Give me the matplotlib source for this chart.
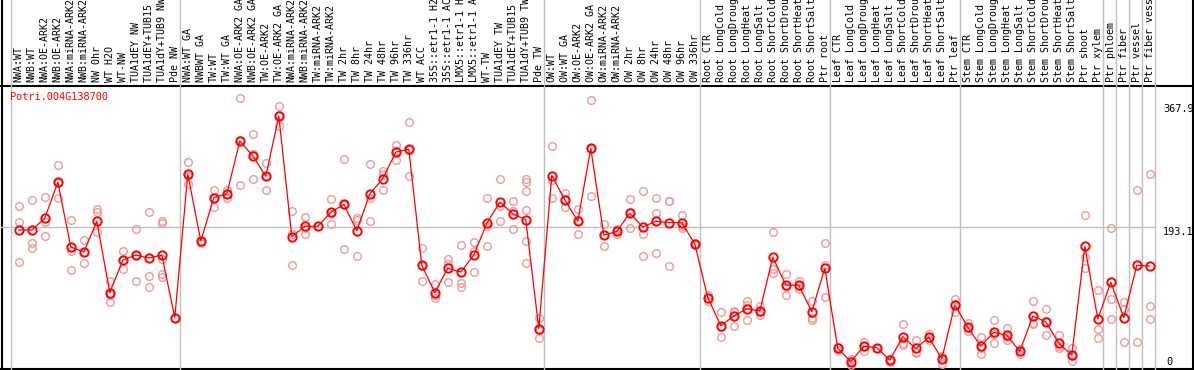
import numpy as np
import matplotlib
matplotlib.use("Agg")
import matplotlib.pyplot as plt
import matplotlib.transforms as mtransforms

plt.rcParams['font.family'] = 'DejaVu Sans Mono'

gene = "Potri.004G138700"

# sample labels, left to right
labels = [
    "NWA:WT", "NWB:WT", "NWA:OE-ARK2", "NWB:OE-ARK2", "NWA:miRNA-ARK2", "NWB:miRNA-ARK2",
    "NW 0hr", "WT H2O", "WT-NW", "TUA1dEY NW", "TUA1dEY+TUB15 NW", "TUA1dY+TUB9 NW", "Pde NW",
    "NWA:WT GA", "NWBWT GA", "TW:WT", "TW:WT GA", "NWA:OE-ARK2 GA", "NWB:OE-ARK2 GA",
    "TW:OE-ARK2", "TW:OE-ARK2 GA", "NWA:miRNA-ARK2", "NWB:miRNA-ARK2", "TW:miRNA-ARK2",
    "TW:miRNA-ARK2", "TW 2hr", "TW 8hr", "TW 24hr", "TW 48hr", "TW 96hr", "TW 336hr", "WT ACC",
    "35S::etr1-1 H2O", "35S::etr1-1 ACC", "LMX5::etr1-1 H2O", "LMX5::etr1-1 ACC", "WT-TW",
    "TUA1dEY TW", "TUA1dEY+TUB15 TW", "TUA1dY+TUB9 TW", "Pde TW",
    "OW:WT", "OW:WT GA", "OW:OE-ARK2", "OW:OE-ARK2 GA", "OW:miRNA-ARK2", "OW:miRNA-ARK2",
    "OW 2hr", "OW 8hr", "OW 24hr", "OW 48hr", "OW 96hr", "OW 336hr",
    "Root CTR", "Root LongCold", "Root LongDrought", "Root LongHeat", "Root LongSalt",
    "Root ShortCold", "Root ShortDrought", "Root ShortHeat", "Root ShortSalt", "Ptr root",
    "Leaf CTR", "Leaf LongCold", "Leaf LongDrought", "Leaf LongHeat", "Leaf LongSalt",
    "Leaf ShortCold", "Leaf ShortDrought", "Leaf ShortHeat", "Leaf ShortSalt", "Ptr leaf",
    "Stem CTR", "Stem LongCold", "Stem LongDrought", "Stem LongHeat", "Stem LongSalt",
    "Stem ShortCold", "Stem ShortDrought", "Stem ShortHeat", "Stem ShortSalt", "Ptr shoot",
    "Ptr xylem", "Ptr phloem", "Ptr fiber", "Ptr vessel", "Ptr fiber vessel",
]

# group boundaries (sample index where a new group starts)
group_bounds = [0, 13, 41, 53, 63, 73, 84, 85, 86, 87, 88]

means = [
    189, 189, 205, 254, 166, 159, 201, 104, 148, 155, 151, 155, 70,
    265, 174, 233, 238, 310, 290, 262, 344, 180, 194, 194, 213, 224, 188, 238,
    259, 295, 299, 141, 104, 137, 132, 155, 198, 227, 211, 203, 55,
    263, 230, 201, 300, 182, 187, 212, 193, 201, 199, 199, 170,
    97, 59, 72, 82, 79, 152, 114, 114, 78, 137,
    28, 10, 31, 29, 12, 44, 28, 43, 14, 87,
    57, 31, 50, 46, 24, 72, 64, 35, 19, 167, 68,
    118, 70, 141, 140,
]

reps = [
    [222, 200, 145], [230, 172, 165], [234, 181, 200], [277, 232, 253], [203, 161, 134],
    [175, 144, 159], [217, 213, 186], [120, 101, 91], [160, 136, 148], [191, 119, 155],
    [213, 126, 112], [201, 198, 150, 129, 125], [70],
    [282, 251, 262], [174, 172], [244, 220, 233], [244, 232, 238], [368, 250, 312],
    [320, 258, 292], [280, 244, 262], [357, 330, 345], [215, 142, 183], [207, 183, 192],
    [194], [231, 197, 211], [286, 163, 223], [205, 203, 154], [279, 233, 201],
    [269, 243, 265], [305, 284, 296], [336, 263, 298], [165, 119, 140], [115, 100, 97],
    [150, 118, 143], [169, 117, 112], [173, 132, 160], [233, 167, 194], [258, 201, 222],
    [228, 190, 215], [259, 254, 242, 216, 174, 144], [70, 42, 53],
    [303, 257, 233], [239, 220, 231], [218, 183, 202], [366, 235, 299], [197, 167, 182],
    [190, 184, 187], [231, 192, 213], [242, 183, 153], [232, 212, 158], [229, 228, 140],
    [210, 192, 195], [172, 168],
    [101, 93, 97], [77, 44, 57], [78, 59, 79], [92, 67, 87], [86, 74, 77],
    [186, 136, 131], [129, 101, 112], [120, 109, 113], [93, 69, 66], [171, 142, 98],
    [26, 30], [13, 5, 11], [37, 25, 31], [29, 28], [14, 10],
    [61, 36, 33], [40, 22, 23], [47, 40, 42], [18, 7, 16], [95, 77, 89],
    [63, 52, 56], [43, 21, 29], [67, 36, 47], [56, 39, 43], [27, 21, 24],
    [93, 62, 61], [81, 46, 65], [46, 29, 31], [28, 11, 18], [210, 152, 137], [107, 55, 42],
    [192, 95, 68], [91, 37, 82], [244, 37], [265, 85, 68],
]

y_ticks = [0, 193.1, 367.9]

W, H = 1194, 370
fig = plt.figure(figsize=(W / 100, H / 100), dpi=100)

# frame lines (pixel overlay)
ov = fig.add_axes([0, 0, 1, 1])
ov.set_xlim(0, W)
ov.set_ylim(H, 0)
ov.axis('off')
ov.plot([1.5, 1.5], [0, H], color='black', lw=1.5)
ov.plot([W - 1.5, W - 1.5], [0, H], color='black', lw=1.5)
ov.plot([0, W], [85.5, 85.5], color='black', lw=1.5)
ov.plot([0, W], [369, 369], color='black', lw=1.5)

# main data axes
left_px, right_px, top_px, bot_px = 11, 1155, 86, 369
ax = fig.add_axes([left_px / W, (H - bot_px) / H,
                   (right_px - left_px) / W, (bot_px - top_px) / H])
n = len(labels)
ax.set_xlim(0, n)
ax.set_ylim(0, (bot_px - top_px) / 0.7353)
ax.axis('off')

xs = np.arange(n) + 0.6

# separators between groups
hdr = 1 + (top_px) / (bot_px - top_px)
for b in group_bounds:
    ax.axvline(b, ymin=0, ymax=hdr, color='#c0c0c0', lw=1, clip_on=False, zorder=1)
ax.axhline(193.1, xmin=-10 / 1144, xmax=1, color='#c0c0c0', lw=1, clip_on=False, zorder=1)

# replicates
rx = [x for x, r in zip(xs, reps) for _ in r]
ry = [v for r in reps for v in r]
ax.plot(rx, ry, 'o', ls='none', ms=5.5, mfc='none', mec='#eb9a9a', mew=1.0, zorder=2)

# means
ax.plot(xs, means, '-', color='red', lw=0.9, zorder=3)
ax.plot(xs, means, 'o', ls='none', ms=6, mfc='none', mec='red', mew=1.4, zorder=4)

# rotated sample labels in header
trans = mtransforms.blended_transform_factory(ax.transData, ax.transAxes)
for x, lab in zip(xs, labels):
    ax.annotate(lab, xy=(x, 1), xycoords=trans, xytext=(0, 3.5), textcoords='offset pixels',
                rotation=90, ha='center', va='bottom', fontsize=7.2, color='black',
                annotation_clip=False)

ax.annotate(gene, xy=(0, 1), xycoords='axes fraction', xytext=(-1, -11),
            textcoords='offset pixels', ha='left', va='center', fontsize=7.4, color='red')

# y labels on the right
tr2 = mtransforms.blended_transform_factory(ax.transAxes, ax.transData)
offs = {0: 7, 193.1: -4.5, 367.9: -10.5}
for t in y_ticks:
    s = "0" if t == 0 else f"{t:.1f}"
    ax.annotate(s, xy=(1, t), xycoords=tr2, xytext=(8 if t else 11, offs[t]),
                textcoords='offset pixels', ha='left', va='center', fontsize=7.4,
                color='black', annotation_clip=False)

fig.savefig("out.png", dpi=100)
